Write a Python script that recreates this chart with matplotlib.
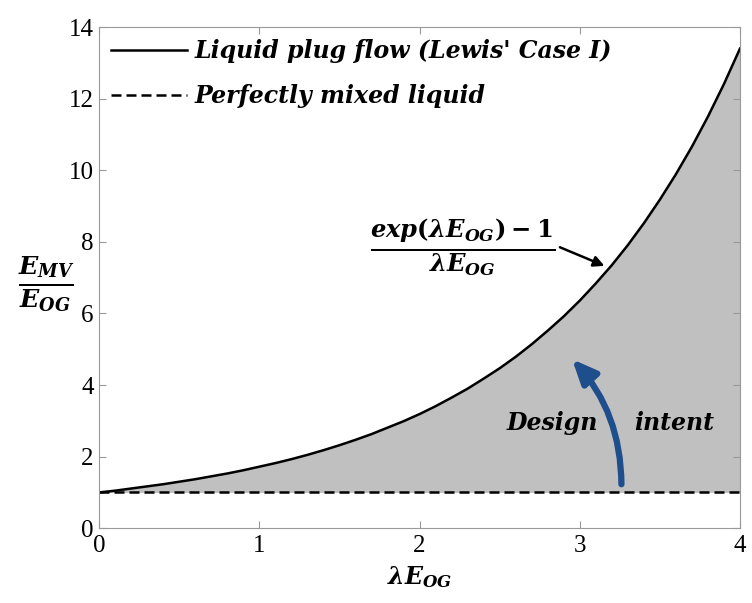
import matplotlib
matplotlib.use('Agg')
import matplotlib.pyplot as plt
from matplotlib.patches import FancyArrowPatch

# values
x_vals = [0.0, 0.1, 0.2, 0.3, 0.4, 0.5, 0.6, 0.7, 0.8, 0.9,
          1.0, 1.1, 1.2, 1.3, 1.4, 1.5, 1.6, 1.7, 1.8, 1.9,
          2.0, 2.1, 2.2, 2.3, 2.4, 2.5, 2.6, 2.7, 2.8, 2.9,
          3.0, 3.1, 3.2, 3.3, 3.4, 3.5, 3.6, 3.7, 3.8, 3.9, 4.0]
plug_flow = [1.00, 1.05, 1.11, 1.17, 1.23, 1.30, 1.37, 1.45, 1.53, 1.62,
             1.72, 1.82, 1.93, 2.05, 2.18, 2.32, 2.47, 2.63, 2.81, 2.99,
             3.19, 3.41, 3.65, 3.90, 4.18, 4.47, 4.79, 5.14, 5.52, 5.92,
             6.36, 6.84, 7.35, 7.91, 8.52, 9.18, 9.89, 10.66, 11.50, 12.41, 13.40]
mixed = [1.0] * len(x_vals)

x_ticks = [0, 1, 2, 3, 4]
y_ticks = [0, 2, 4, 6, 8, 10, 12, 14]

label_plug = "Liquid plug flow (Lewis' Case I)"
label_mixed = "Perfectly mixed liquid"

plt.rcParams['mathtext.fontset'] = 'custom'
plt.rcParams['mathtext.rm'] = 'DejaVu Serif:bold'
plt.rcParams['mathtext.it'] = 'DejaVu Serif:bold:italic'
plt.rcParams['mathtext.bf'] = 'DejaVu Serif:bold'

bold_it = dict(family='DejaVu Serif', weight='bold', style='italic')

fig = plt.figure(figsize=(7.52, 6.03), dpi=100)
ax = fig.add_axes([0.132, 0.124, 0.852, 0.831])

ax.fill_between(x_vals, mixed, plug_flow, color='#c0c0c0', lw=0)
ax.plot(x_vals, plug_flow, color='black', lw=1.8, label=label_plug)
ax.plot(x_vals, mixed, color='black', lw=1.8, ls=(0, (4, 2)), label=label_mixed)

ax.set_xlim(0, 4)
ax.set_ylim(0, 14)
ax.set_xticks(x_ticks)
ax.set_yticks(y_ticks)
ax.tick_params(direction='in', top=True, right=True, length=5, color='#999999',
               labelsize=18)
ax.tick_params(axis='x', pad=5)
ax.tick_params(axis='y', pad=4)
for lab in ax.get_xticklabels() + ax.get_yticklabels():
    lab.set_family('Liberation Serif')
for sp in ax.spines.values():
    sp.set_color('#999999')

leg = ax.legend(loc='upper left', frameon=False, handlelength=3.2, handletextpad=0.35,
                labelspacing=0.9, borderaxespad=0.2, borderpad=0.3,
                prop=dict(family='DejaVu Serif', weight='bold', style='italic', size=17))

ax.set_xlabel(r'$\lambda E_{OG}$', fontsize=17, labelpad=5)
fig.text(0.062, 0.53, r'$\frac{E_{MV}}{E_{OG}}$', fontsize=26, ha='center', va='center')

# formula annotation
ax.text(2.27, 7.85, r'$\frac{exp(\lambda E_{OG})-1}{\lambda E_{OG}}$', fontsize=25,
        ha='center', va='center')
ax.annotate('', xy=(3.17, 7.3), xytext=(2.86, 7.88),
            arrowprops=dict(arrowstyle='-|>', color='black', lw=1.8, mutation_scale=16))

# design intent arrow
arr = FancyArrowPatch((3.26, 1.15), (2.94, 4.78), connectionstyle='arc3,rad=0.2',
                      arrowstyle='-|>,head_length=0.8,head_width=0.35',
                      color='#1f4e8c', lw=4.5, mutation_scale=18)
ax.add_patch(arr)
ax.text(2.83, 2.93, 'Design', fontsize=17, ha='center', va='center', **bold_it)
ax.text(3.59, 2.93, 'intent', fontsize=17, ha='center', va='center', **bold_it)

fig.savefig('out.png', dpi=100)
